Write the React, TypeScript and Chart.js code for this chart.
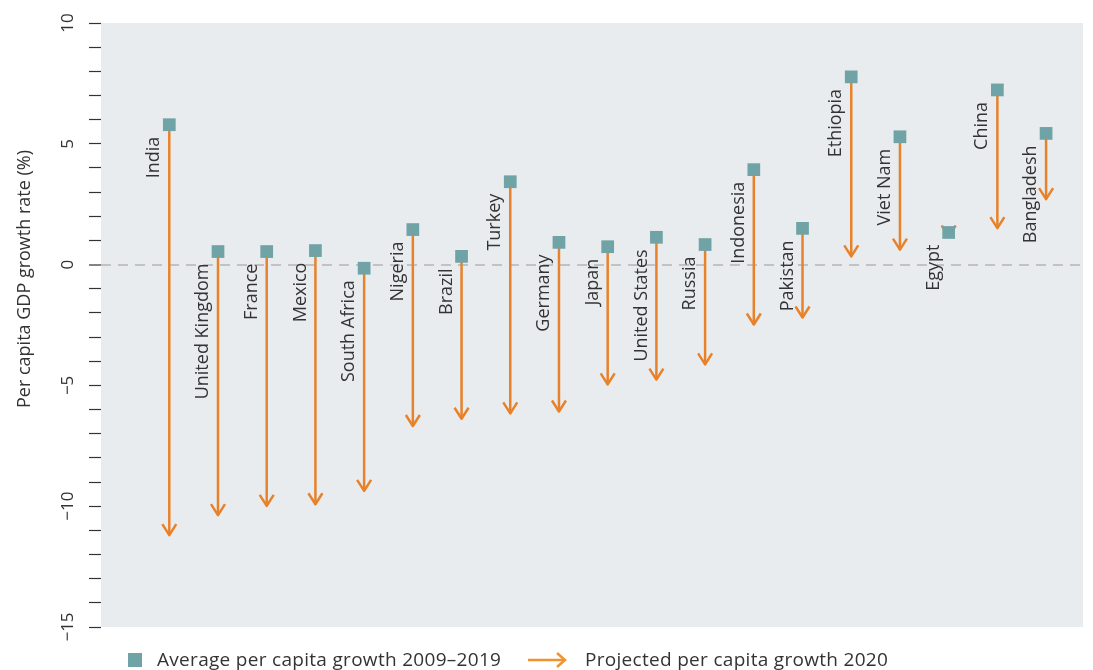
import React, { useEffect, useRef } from 'react';
import { Chart, registerables } from 'chart.js';

Chart.register(...registerables);

const countries = [
  'India', 'United Kingdom', 'France', 'Mexico', 'South Africa', 'Nigeria', 'Brazil',
  'Turkey', 'Germany', 'Japan', 'United States', 'Russia', 'Indonesia', 'Pakistan',
  'Ethiopia', 'Viet Nam', 'Egypt', 'China', 'Bangladesh',
];
const avgGrowth2009_2019 = [
  5.79, 0.54, 0.54, 0.58, -0.15, 1.45, 0.34, 3.43, 0.92, 0.74, 1.13, 0.83, 3.93, 1.5,
  7.77, 5.29, 1.33, 7.23, 5.43,
];
const projected2020 = [
  -11.24, -10.41, -10.03, -9.96, -9.41, -6.72, -6.42, -6.2, -6.12, -5.0, -4.8, -4.17,
  -2.52, -2.23, 0.3, 0.58, 1.12, 1.47, 2.67,
];
const yTickLabels = [10, 5, 0, -5, -10, -15];
const legendLabels = ['Average per capita growth 2009\u20132019', 'Projected per capita growth 2020'];
const yAxisTitle = 'Per capita GDP growth rate (%)';

const TEAL = '#70A3A6';
const ORANGE = '#E8822A';
const TEXT = '#333333';
const FONT = '"Open Sans", Roboto, "DejaVu Sans", sans-serif';

export default function App() {
  const ref = useRef<HTMLCanvasElement>(null);

  useEffect(() => {
    if (!ref.current) return;

    const bgPlugin = {
      id: 'plotBg',
      beforeDraw(chart: any) {
        const { ctx, chartArea: a } = chart;
        ctx.save();
        ctx.fillStyle = '#E9ECEF';
        ctx.fillRect(a.left, a.top, a.right - a.left, a.bottom - a.top);
        ctx.restore();
      },
    };

    const arrowPlugin = {
      id: 'arrows',
      beforeDatasetsDraw(chart: any) {
        const { ctx } = chart;
        const xs = chart.scales.x;
        const ys = chart.scales.y;
        ctx.save();
        ctx.strokeStyle = ORANGE;
        ctx.lineWidth = 2.5;
        ctx.lineCap = 'butt';
        ctx.lineJoin = 'round';
        countries.forEach((_, i) => {
          const px = xs.getPixelForValue(i);
          const y0 = ys.getPixelForValue(avgGrowth2009_2019[i]);
          const y1 = ys.getPixelForValue(projected2020[i]);
          const dir = y1 > y0 ? 1 : -1;
          ctx.beginPath();
          ctx.moveTo(px, y0);
          ctx.lineTo(px, y1 - dir * 1);
          ctx.stroke();
          ctx.beginPath();
          ctx.moveTo(px - 7, y1 - dir * 12);
          ctx.lineTo(px, y1 - dir * 1);
          ctx.lineTo(px + 7, y1 - dir * 12);
          ctx.stroke();
        });
        // country labels
        ctx.fillStyle = TEXT;
        ctx.font = `18px ${FONT}`;
        ctx.textAlign = 'right';
        ctx.textBaseline = 'middle';
        countries.forEach((name, i) => {
          const px = xs.getPixelForValue(i);
          const y0 = ys.getPixelForValue(avgGrowth2009_2019[i]);
          ctx.save();
          ctx.translate(px - 15, y0 + 12);
          ctx.rotate(-Math.PI / 2);
          ctx.fillText(name, 0, 0);
          ctx.restore();
        });
        // y axis title
        ctx.font = `18px ${FONT}`;
        ctx.textAlign = 'center';
        ctx.save();
        ctx.translate(25, 279);
        ctx.rotate(-Math.PI / 2);
        ctx.fillText(yAxisTitle, 0, 0);
        ctx.restore();
        ctx.restore();
      },
    };

    const chart = new Chart(ref.current, {
      type: 'scatter',
      data: {
        datasets: [
          {
            label: legendLabels[0],
            data: avgGrowth2009_2019.map((v, i) => ({ x: i, y: v })),
            pointStyle: 'rect',
            pointRadius: 9,
            pointHoverRadius: 9,
            backgroundColor: TEAL,
            borderWidth: 0,
          },
        ],
      },
      options: {
        animation: false,
        responsive: false,
        devicePixelRatio: 1,
        events: [],
        layout: { padding: { top: 23, bottom: 43, right: 10, left: 0 } },
        plugins: { legend: { display: false }, tooltip: { enabled: false } },
        scales: {
          x: { type: 'linear', min: -1.402, max: 18.758, display: false },
          y: {
            min: -15,
            max: 10,
            ticks: {
              stepSize: 1,
              autoSkip: false,
              minRotation: 90,
              maxRotation: 90,
              crossAlign: 'center',
              padding: 6,
              color: TEXT,
              font: { family: FONT, size: 17 },
              callback: (v: any) =>
                yTickLabels.includes(v) ? (v < 0 ? '\u2212' + Math.abs(v) : String(v)) : '',
            },
            grid: {
              color: (c: any) => (c.tick && c.tick.value === 0 ? '#C2C2C2' : 'rgba(0,0,0,0)'),
              lineWidth: (c: any) => (c.tick && c.tick.value === 0 ? 2 : 1),
              tickColor: '#333333',
              tickLength: 12,
              tickWidth: 1.2,
            },
            border: {
              display: false,
              dash: (c: any) => (c.tick && c.tick.value === 0 ? [10, 7] : []),
            },
            afterFit: (s: any) => {
              s.width = 101;
            },
          },
        },
      },
      plugins: [bgPlugin, arrowPlugin],
    } as any);

    return () => chart.destroy();
  }, []);

  const legendText = {
    position: 'absolute' as const,
    top: 648,
    font: `19px ${FONT}`,
    letterSpacing: '0.3px',
    lineHeight: '22px',
    color: TEXT,
    whiteSpace: 'nowrap' as const,
  };

  return (
    <div style={{ position: 'absolute', left: 0, top: 0, width: 1093, height: 670 }}>
      <canvas ref={ref} width={1093} height={670} style={{ width: 1093, height: 670 }} />
      <div
        style={{
          position: 'absolute',
          left: 128,
          top: 653,
          width: 14,
          height: 14,
          background: TEAL,
        }}
      />
      <span style={{ ...legendText, left: 157 }}>{legendLabels[0]}</span>
      <svg
        style={{ position: 'absolute', left: 526, top: 651 }}
        width={42}
        height={18}
        viewBox="0 0 42 18"
      >
        <line x1={2} y1={9} x2={39} y2={9} stroke="#F0942C" strokeWidth={2.5} />
        <polyline points="31,2 39,9 31,16" fill="none" stroke="#F0942C" strokeWidth={2.5} />
      </svg>
      <span style={{ ...legendText, left: 585 }}>{legendLabels[1]}</span>
    </div>
  );
}
